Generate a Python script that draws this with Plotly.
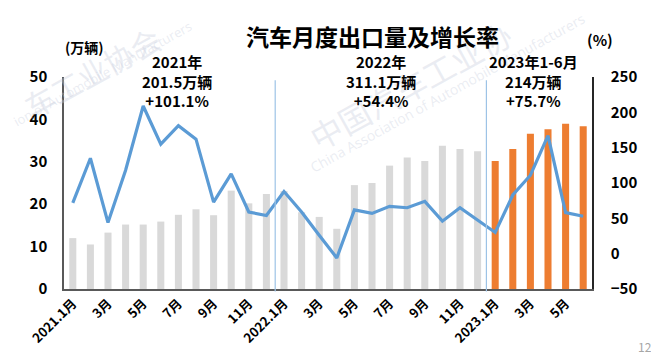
import plotly.graph_objects as go

# ---- data ----
months = ["2021.1月", "2月", "3月", "4月", "5月", "6月", "7月", "8月", "9月", "10月", "11月", "12月",
          "2022.1月", "2月", "3月", "4月", "5月", "6月", "7月", "8月", "9月", "10月", "11月", "12月",
          "2023.1月", "2月", "3月", "4月", "5月", "6月"]
volume = [12.0, 10.5, 13.3, 15.2, 15.2, 15.9, 17.5, 18.8, 17.4, 23.2, 20.2, 22.4,
          23.1, 18.1, 17.0, 14.2, 24.5, 25.0, 29.1, 31.0, 30.2, 33.8, 33.0, 32.5,
          30.2, 33.0, 36.6, 37.7, 39.0, 38.4]
growth = [72, 135, 44, 118, 209, 155, 181, 162, 73, 113, 59, 54,
          88, 59, 26, -6, 62, 57, 67, 65, 74, 46, 65, 47,
          30, 83, 111, 167, 58, 53]
tick_idx = [0, 2, 4, 6, 8, 10, 12, 14, 16, 18, 20, 22, 24, 26, 28]
tick_text = ["2021.1月", "3月", "5月", "7月", "9月", "11月", "2022.1月", "3月", "5月", "7月", "9月", "11月",
             "2023.1月", "3月", "5月"]
left_ticks = [0, 10, 20, 30, 40, 50]
right_ticks = [-50, 0, 50, 100, 150, 200, 250]
year_notes = [("2021年<br>201.5万辆<br>+101.1%", 5.9),
              ("2022年<br>311.1万辆<br>+54.4%", 17.5),
              ("2023年1-6月<br>214万辆<br>+75.7%", 26.2)]
dividers = [11.5, 23.5]

FONT = "Noto Sans CJK SC"
x = list(range(len(months)))
bar_colors = ["#D9D9D9"] * 24 + ["#ED7D31"] * 6

fig = go.Figure()
fig.add_trace(go.Bar(x=x, y=volume, marker=dict(color=bar_colors, line=dict(width=0)),
                     yaxis="y", showlegend=False))
fig.add_trace(go.Scatter(x=x, y=growth, mode="lines", line=dict(color="#5B9BD5", width=3.2),
                         yaxis="y2", showlegend=False))


def note(text, xv, yv, size, color="#000000", xref="paper", angle=0, family=FONT, align="center"):
    fig.add_annotation(text=text, x=xv, y=yv, xref=xref, yref="paper", showarrow=False,
                       xanchor="center", yanchor="middle", textangle=angle, align=align,
                       font=dict(family=family, size=size, color=color))


# watermark (very faint); only the parts visible in the picture
wm_color = "rgba(200,206,222,0.38)"
note("车工业协会", 0.053, 1.024, 30, wm_color, angle=-29)
note("ion of Automobile Manufacturers", 0.072, 1.014, 13, wm_color,
     angle=-29, family="Open Sans")
note("中国汽车工业协", 0.655, 0.962, 32, wm_color, angle=-29)
note("China Association of Automobile Manufacturers", 0.727, 0.925, 14, wm_color,
     angle=-29, family="Open Sans")

for xv in dividers:
    fig.add_shape(type="line", x0=xv, x1=xv, y0=-0.012, y1=0.985, xref="x", yref="paper",
                  line=dict(color="#9DC3E6", width=1.2))

note("<b>汽车月度出口量及增长率</b>", 0.585, 1.193, 23)
note("<b>(万辆)</b>", 0.038, 1.142, 14)
note("<b>(%)</b>", 1.015, 1.175, 15)
for txt, xv in year_notes:
    note("<b>" + txt + "</b>", xv, 0.981, 15, xref="x")
note("12", 1.10, -0.27, 12, "#A6A6A6")

# the page adds an 8px body margin, so the figure is 8px smaller than the window
fig.update_layout(
    width=651, height=352,
    margin=dict(l=56, r=67, t=69, b=71),
    paper_bgcolor="white", plot_bgcolor="white",
    bargap=0.6,
    xaxis=dict(range=[-0.5, 29.5], tickmode="array", tickvals=tick_idx, ticktext=tick_text,
               tickangle=-45, showgrid=False, zeroline=False, showline=True, automargin=False,
               linecolor="#595959", linewidth=1.5, ticks="",
               tickfont=dict(family=FONT, size=13, color="#000000", weight="bold")),
    yaxis=dict(range=[0, 50], tickvals=left_ticks, showgrid=False, zeroline=False,
               showline=True, linecolor="#595959", linewidth=1.5, ticks="", automargin=False,
               ticklabelstandoff=12,
               tickfont=dict(family=FONT, size=15, color="#000000", weight="bold")),
    yaxis2=dict(range=[-50, 250], tickvals=right_ticks, overlaying="y", side="right",
                showgrid=False, zeroline=False, showline=True, linecolor="#262626",
                linewidth=1.5, ticks="", ticklabelstandoff=14, automargin=False,
                tickfont=dict(family=FONT, size=15, color="#000000", weight="bold")),
)

fig.write_html("out.html")
